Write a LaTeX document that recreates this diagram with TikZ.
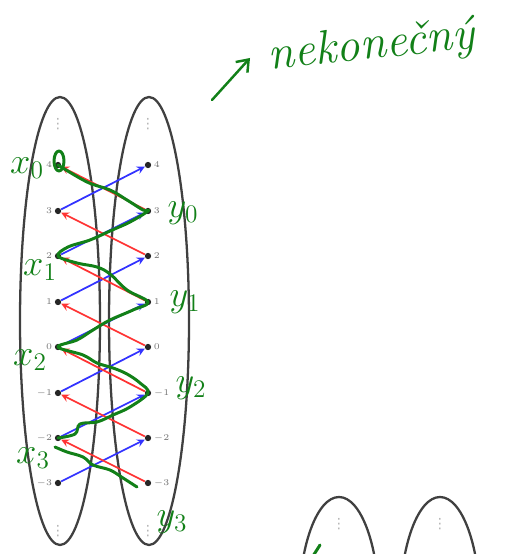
\documentclass[tikz,border=0pt]{standalone}
\usepackage{fontspec}
\newfontfamily\symfnt{DejaVu Sans}
\usetikzlibrary{arrows.meta}
\definecolor{pen}{RGB}{18,128,24}
\begin{document}
\begin{tikzpicture}[
    x=0.02cm, y=-0.02cm,
    oval/.style={draw=black!75, line width=1.3pt},
    pt/.style={circle, fill=black!85, inner sep=0pt, minimum size=3.6pt},
    lab/.style={font=\fontsize{5.5}{6}\selectfont, text=black!55, inner sep=1.2pt},
    fwd/.style={->, >=stealth, blue!80, line width=1pt},
    bwd/.style={->, >=stealth, red!80, line width=1pt},
    ink/.style={draw=pen, line width=1.7pt, line cap=round, line join=round},
    hand/.style={text=pen, font=\fontsize{20}{22}\selectfont, inner sep=0pt},
    dots/.style={font=\symfnt\fontsize{8}{9}\selectfont, text=black!30, inner sep=0pt}
]
\useasboundingbox (0,0) rectangle (510,554);
\begin{scope}
\clip (0,0) rectangle (510,554);

% the two sets
\draw[oval] (60,321) ellipse (40 and 224);
\draw[oval] (149,321) ellipse (40 and 224);
\draw[oval] (339,607) ellipse (40 and 110);
\draw[oval] (440,607) ellipse (40 and 110);

\node[dots] (ta) at (58,124) {⋮};
\node[dots] (tb) at (148,124) {⋮};
\node[dots] (ba) at (58,531) {⋮};
\node[dots] (bb) at (148,531) {⋮};
\node[dots] (tc) at (339,524) {⋮};
\node[dots] (td) at (440,524) {⋮};

% left column
\node[pt, label={[lab]left:$4$}] (a4) at (58,165) {};
\node[pt, label={[lab]left:$3$}] (a3) at (58,211) {};
\node[pt, label={[lab]left:$2$}] (a2) at (58,256) {};
\node[pt, label={[lab]left:$1$}] (a1) at (58,302) {};
\node[pt, label={[lab]left:$0$}] (a0) at (58,347) {};
\node[pt, label={[lab]left:$-1$}] (am1) at (58,393) {};
\node[pt, label={[lab]left:$-2$}] (am2) at (58,438) {};
\node[pt, label={[lab]left:$-3$}] (am3) at (58,483) {};

% right column
\node[pt, label={[lab]right:$4$}] (b4) at (148,165) {};
\node[pt, label={[lab]right:$3$}] (b3) at (148,211) {};
\node[pt, label={[lab]right:$2$}] (b2) at (148,256) {};
\node[pt, label={[lab]right:$1$}] (b1) at (148,302) {};
\node[pt, label={[lab]right:$0$}] (b0) at (148,347) {};
\node[pt, label={[lab]right:$-1$}] (bm1) at (148,393) {};
\node[pt, label={[lab]right:$-2$}] (bm2) at (148,438) {};
\node[pt, label={[lab]right:$-3$}] (bm3) at (148,483) {};

% x -> x+1
\draw[fwd] (a3) -- (b4);
\draw[fwd] (a2) -- (b3);
\draw[fwd] (a1) -- (b2);
\draw[fwd] (a0) -- (b1);
\draw[fwd] (am1) -- (b0);
\draw[fwd] (am2) -- (bm1);
\draw[fwd] (am3) -- (bm2);

% y -> y+1
\draw[bwd] (b3) -- (a4);
\draw[bwd] (b2) -- (a3);
\draw[bwd] (b1) -- (a2);
\draw[bwd] (b0) -- (a1);
\draw[bwd] (bm1) -- (a0);
\draw[bwd] (bm2) -- (am1);
\draw[bwd] (bm3) -- (am2);

% handwritten chain
\draw[ink] (59,161) ellipse (5 and 10);
\draw[ink] plot[smooth, tension=0.6] coordinates {(a4) (87,182) (110,190) (127,200) (143,210) (b3)
  (130,222) (110,231) (90,240) (68,247) (a2)
  (77,263) (97,267) (110,274) (127,290) (b1)
  (133,310) (110,320) (93,330) (77,340) (a0)
  (83,355) (97,363) (113,368) (127,374) (140,383) (bm1)
  (130,407) (113,415) (97,422) (80,424) (75,434) (am2)};
\draw[ink] plot[smooth, tension=0.6] coordinates {(55,447) (67,452) (83,457) (93,465) (110,470) (123,478) (137,487)};
\draw[ink] (313,556) -- (320,545);

\node[hand] (x0) at (27,168) {$x_0$};
\node[hand] (y0) at (183,213) {$y_0$};
\node[hand] (x1) at (40,270) {$x_1$};
\node[hand] (y1) at (185,302) {$y_1$};
\node[hand] (x2) at (30,360) {$x_2$};
\node[hand] (y2) at (191,388) {$y_2$};
\node[hand] (x3) at (33,458) {$x_3$};
\node[hand] (y3) at (172,522) {$y_3$};

% remark
\coordinate (as) at (212,100);
\coordinate (ae) at (250,58);
\draw[ink, line width=1.4pt, -{Straight Barb[length=6pt, width=9pt]}] (as) -- (ae);
\node[hand, font=\fontsize{27}{28}\itshape, rotate=6, anchor=west] (nek) at (268,58) {nekonečný};
\end{scope}
\end{tikzpicture}
\end{document}
